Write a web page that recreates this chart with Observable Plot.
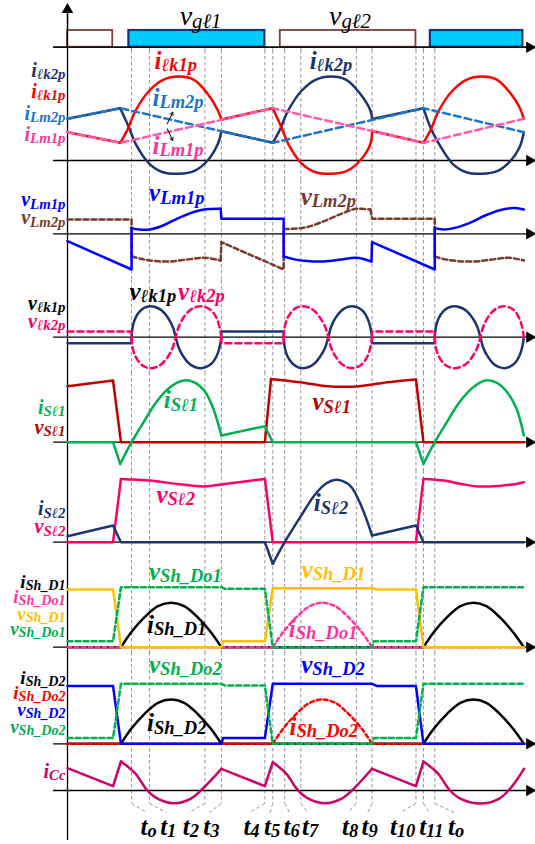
<!DOCTYPE html>
<html><head><meta charset="utf-8">
<script src="https://cdn.jsdelivr.net/npm/d3@7"></script>
<script src="https://cdn.jsdelivr.net/npm/@observablehq/plot@0.6"></script>
<style>
body{margin:0;background:#fff;}
#chart{position:relative;width:535px;height:844px;overflow:hidden;background:#fff;}
</style></head><body><div id="chart"></div>
<script>
// ---------- time events (switching instants) ----------
const events = [62.3, 79.7, 133.7, 149.7, 192, 199.7, 211.3, 227, 281, 296.3, 339, 346.3, 357.3];
const eventNames = ["o","1","2","3","4","5","6","7","8","9","10","11","o"];
const eventLabelAt = [79, 98, 120, 140, 179, 199, 218, 236, 275, 294, 326, 354, 378];

// ---------- gate signals ----------
const gateHigh = 16.7;
const vgl1Pulses = [[59.7, 192], [353, 443]];
const vgl2Pulses = [[0, 44], [207, 339]];

// ---------- leakage / magnetizing currents ----------
const ilk1pLin = [[[0,28.3],[51.3,17.7]], [[149.7,41],[199.7,52.3]], [[296.3,29.5],[346.3,17.7]]];
const ilk1pCur = [
  [[51.3,17.7],[58,30],[66.3,50],[79.7,70],[93,80.7],[108,84],[123,80.7],[136.3,66.7],[146.3,50],[149.7,41]],
  [[199.7,52.3],[208.1,33.3],[214.7,16.7],[228.1,-3.3],[241.4,-11.7],[256.4,-13.3],[271.4,-10.7],[284.7,0],[294.7,16.7],[296.3,29.5]],
  [[346.3,17.7],[353,30],[361.3,50],[374.7,70],[388,80.7],[403,84],[418,80.7],[431.3,66.7],[439.7,53.3],[444,41.7]]];
const ilk2pLin = [[[0,41.7],[51.3,52.3]], [[149.7,29.3],[199.7,17.7]], [[296.3,41.5],[346.3,52.3]]];
const ilk2pCur = [
  [[51.3,52.3],[59.7,33.3],[66.3,16.7],[79.7,-3.3],[93,-11.7],[108,-13.3],[123,-10.7],[136.3,0],[146.3,16.7],[149.7,29.3]],
  [[199.7,17.7],[206.3,30],[214.7,50],[228,70],[241.3,80.7],[256.3,84],[271.3,80.7],[284.7,66.7],[294.7,50],[296.3,41.5]],
  [[346.3,52.3],[353,33.3],[361.3,16.7],[374.7,-3.3],[388,-11.7],[403,-13.3],[418,-10.7],[431.3,0],[439.7,13],[444,28.3]]];
const iLm2p = [[[0,41.7],[51.3,52.3],[199.7,17.7],[346.3,52.3],[444,28.3]]];
const iLm1p = [[[0,28.3],[51.3,17.7],[199.7,52.3],[346.3,17.7],[444,41.7]]];
const pointerArrows = [[97,36.7,102.4,48.3],[97,31.7,102.4,20]];

// ---------- magnetizing voltages ----------
const vLm1pLin = [[[0,-7.3],[62.3,-35.7],[62.3,5.7]], [[149,25],[149.7,15],[210.3,15],[210.3,-22.7]], [[295.7,-27.7],[296.3,-8.3],[357.3,-35.7],[357.3,5.7]]];
const vLm1pCur = [
  [[62.3,5.7],[69.7,4.3],[79.7,4.3],[93,8.3],[106.3,15],[119.7,20.7],[133,24.3],[149,25]],
  [[210.3,-22.7],[219.7,-25.3],[233,-27.3],[249.7,-27.7],[266.3,-25.7],[281,-24],[295.7,-27.7]],
  [[357.3,5.7],[366.3,4.3],[379.7,6.7],[393,11.7],[406.3,18.3],[419.7,23.3],[433,25.7],[444,24.3]]];
const vLm2pLin = [[[0,14.3],[62.3,14.3],[62.3,-22.7]], [[149,-26.7],[149.7,-8.3],[210.3,-35.7],[210.3,5]], [[294.7,24.3],[296.3,15],[357.3,15],[357.3,-22.7]]];
const vLm2pCur = [
  [[62.3,-22.7],[73,-25.3],[86.3,-27.3],[99.7,-27.7],[116.3,-25.7],[133,-24],[149,-26.7]],
  [[210.3,5],[219.7,5],[233,6.7],[249.7,12.7],[266.3,20],[281,25],[294.7,24.3]],
  [[357.3,-22.7],[366.3,-25.3],[379.7,-27.3],[396.3,-27.7],[413,-25.7],[429.7,-24],[444,-26.7]]];

// ---------- leakage voltages ----------
const vlk1pLin = [[[0,-6],[62.3,-6],[62.3,0]], [[149.7,0],[149.7,5.7],[210.3,5.7],[210.3,0]], [[296.3,0],[296.3,-6],[357.3,-6],[357.3,0]]];
const vlk1pCur = [
  [[62.3,0],[63.5,11],[66,19],[70.5,26],[75,29.5],[80,31],[86,30],[92,26.5],[98,19],[102.5,10],[105.3,0],
   [108,-10],[112.5,-19],[118.5,-26.5],[124.5,-30],[130,-31],[135.5,-29.5],[140.5,-26],[145,-19],[147.7,-11],[149.7,0]],
  [[210.3,0],[211.5,-11],[214,-19],[218.5,-26],[223,-29.5],[228,-31],[234,-30],[240,-26.5],[246,-19],[250.8,-10],[253.7,0],
   [256.3,10],[260.6,19],[266.4,26.5],[272.1,30],[277.4,31],[282.7,29.5],[287.5,26],[291.8,19],[294.4,11],[296.3,0]],
  [[357.3,0],[358.5,11],[361.1,19],[365.8,26],[370.4,29.5],[375.6,31],[381.8,30],[388,26.5],[394.2,19],[398.8,10],[401.7,0],
   [404.3,-10],[408.6,-19],[414.3,-26.5],[420,-30],[425.2,-31],[430.5,-29.5],[435.2,-26],[439.5,-19],[442.1,-11],[444,0]]];
const vlk2pLin = [[[0,5.7],[62.3,5.7],[62.3,0]], [[149.7,0],[149.7,-6],[210.3,-6],[210.3,0]], [[296.3,0],[296.3,5.7],[357.3,5.7],[357.3,0]]];
const vlk2pCur = [
  [[62.3,0],[63.5,-11],[66,-19],[70.5,-26],[75,-29.5],[80,-31],[86,-30],[92,-26.5],[98,-19],[102.5,-10],[105.3,0],
   [108,10],[112.5,19],[118.5,26.5],[124.5,30],[130,31],[135.5,29.5],[140.5,26],[145,19],[147.7,11],[149.7,0]],
  [[210.3,0],[211.5,11],[214,19],[218.5,26],[223,29.5],[228,31],[234,30],[240,26.5],[246,19],[250.8,10],[253.7,0],
   [256.3,-10],[260.6,-19],[266.4,-26.5],[272.1,-30],[277.4,-31],[282.7,-29.5],[287.5,-26],[291.8,-19],[294.4,-11],[296.3,0]],
  [[357.3,0],[358.5,-11],[361.1,-19],[365.8,-26],[370.4,-29.5],[375.6,-31],[381.8,-30],[388,-26.5],[394.2,-19],[398.8,-10],[401.7,0],
   [404.3,10],[408.6,19],[414.3,26.5],[420,30],[425.2,31],[430.5,29.5],[435.2,26],[439.5,19],[442.1,11],[444,0]]];

// ---------- switch S1 ----------
const vSl1Lin = [[[0,56],[44.3,61.7],[52,0],[192,0],[198,63.3]], [[339,62.7],[346.3,0],[444,0]]];
const vSl1Cur = [[[198,63.3],[226.3,60],[253,56],[281,55.7],[296.3,57.7],[306.3,59.3],[339,62.7]]];
const iSl1Lin = [[[0,0],[44.3,0],[51.3,-21.7]], [[149.7,6.7],[192,16],[199.7,0],[339,0],[346.3,-21.7]]];
const iSl1Cur = [
  [[51.3,-21.7],[62.3,0],[73,18.3],[86.3,40],[99.7,55],[113,61.7],[123,60],[133,51.7],[141.3,35],[149.7,6.7]],
  [[346.3,-21.7],[357.3,0],[368,18.3],[381.3,40],[394.7,55],[406.3,61.7],[416.3,60],[426.3,51.7],[436.3,35],[444,6.7]]];

// ---------- switch S2 ----------
const vSl2Lin = [[[0,0],[44.3,0],[52,63.3]], [[192,63.3],[199.7,0],[339,0],[346.3,63.3]]];
const vSl2Cur = [
  [[52,63.3],[79.7,61.7],[106.3,58.3],[133,55.7],[153,58.3],[192,63.3]],
  [[346.3,63.3],[366.3,61.7],[383,58.3],[399.7,55.7],[419.7,56.3],[433,57.7],[444,60]]];
const iSl2Lin = [[[0,6],[44.3,16.7],[52,0],[192,0],[199.7,-21.6]], [[296.3,6.7],[339,16.7],[346.3,0],[444,0]]];
const iSl2Cur = [[[199.7,-21.6],[211.3,0],[227,26],[241,48],[252,59],[259.7,62.3],[268,61],[276.3,55],[286.3,35],[296.3,6.7]]];

// ---------- shunt diodes, leg 1 ----------
const vShD1 = [[[0,57.7],[44.3,57.7],[52,0],[149.7,0],[151.3,6],[192,6],[199.7,59],[296.3,59],[301.3,57.7],[339,57.7],[346.3,0],[444,0]]];
const vShDo1 = [[[0,6],[44.3,6],[52,60],[149.7,60],[153,58.4],[192,58.4],[199.7,0],[296.3,0],[298,6],[339,6],[346.3,60],[444,60]]];
const iShD1Lin = [[[0,0],[52,0]], [[149.7,0],[346.3,0]]];
const iShD1Cur = [
  [[52,0],[62,15],[75,30],[88,41],[100.8,44.4],[113.5,41],[126.5,30],[139.5,15],[149.7,0]],
  [[346.3,0],[356.3,15],[369.3,30],[382.3,41],[395,44.4],[407.5,41],[420.5,30],[433.5,15],[444,0]]];
const iShDo1Lin = [[[0,0],[199.7,0]], [[296.3,0],[444,0]]];
const iShDo1Cur = [[[199.7,0],[209.7,15],[222.7,30],[235.7,41],[248,44.4],[260.3,41],[273.3,30],[286.3,15],[296.3,0]]];

// ---------- shunt diodes, leg 2 ----------
const vShD2 = [[[0,57.7],[44.3,57.7],[52,0],[149.7,0],[151.3,5.7],[192,5.7],[199.7,60],[296.3,60],[301.3,57.7],[339,57.7],[346.3,0],[444,0]]];
const vShDo2 = [[[0,5.7],[44.3,5.7],[52,60],[149.7,60],[153,58.4],[192,58.4],[199.7,0],[296.3,0],[298,5.7],[339,5.7],[346.3,60],[444,60]]];
const iShD2Lin = [[[0,0],[52,0]], [[149.7,0],[346.3,0]]];
const iShD2Cur = [
  [[52,0],[62,15],[75,30],[88,41],[100.8,44.3],[113.5,41],[126.5,30],[139.5,15],[149.7,0]],
  [[346.3,0],[356.3,15],[369.3,30],[382.3,41],[395,44.3],[407.5,41],[420.5,30],[433.5,15],[444,0]]];
const iShDo2Lin = [[[0,0],[199.7,0]], [[296.3,0],[444,0]]];
const iShDo2Cur = [[[199.7,0],[209.7,15],[222.7,30],[235.7,41],[248,44.3],[260.3,41],[273.3,30],[286.3,15],[296.3,0]]];

// ---------- clamp capacitor current ----------
const iCcLin = [[[0,22.3],[44.3,4.3],[52,29]], [[149.7,21.7],[192,4.3],[199.7,28.3]], [[296.3,21.7],[339,4.3],[346.3,29]]];
const iCcCur = [
  [[52,29],[66.3,16.7],[76.3,1.7],[86.3,-7.3],[103,-12.7],[119.7,-8.3],[129.7,0],[149.7,21.7]],
  [[199.7,28.3],[213,16.7],[223,1.7],[233,-7.3],[249.7,-12.7],[266.3,-8.3],[276.7,0],[296.3,21.7]],
  [[346.3,29],[360.7,16.7],[370.7,1.7],[380.7,-7.3],[402,-13],[419.7,-8.3],[429,0],[436,9],[444,21.7]]];

// ---------- colours ----------
const NAVY="#1c3470", RED="#ff0000", BLUE2="#1f74c4", PINK="#ff5aab", PINKL="#ff3399", BLUE="#0000ff",
      BROWN="#7a3b2e", HOT="#ff0066", DARKRED="#c00000", GREEN="#00b050", ORANGE="#ffc000",
      MAG="#cc0066", CYAN="#00ccff", GBROWN="#7f3f3f";

// ---------- layout ----------
const W = 535;
const X_DOMAIN = [-65.2, 455.3];
const layout = {
  gate:{top:0,height:50,base:46.7}, ilk:{top:50,height:130,base:160}, vlm:{top:180,height:100,base:233.3},
  vlk:{top:280,height:92,base:336.7}, is1:{top:372,height:98,base:441.7}, is2:{top:470,height:96,base:541.7},
  sh1:{top:566,height:86,base:646.7}, sh2:{top:652,height:96,base:743.3}, icc:{top:748,height:96,base:790}
};
const FONT = "'Liberation Serif','Times New Roman',Times,serif";

function rows(pieces){ return pieces.flatMap((p,i)=>p.map(([t,v])=>({t,v,z:i}))); }
function trace(lin, cur, o){
  const b = {x:"t", y:"v", z:"z", strokeWidth:2.5, strokeLinejoin:"round", ...o};
  const m = [];
  if (lin && lin.length) m.push(Plot.line(rows(lin), {...b, curve:"linear"}));
  if (cur && cur.length) m.push(Plot.line(rows(cur), {...b, curve:"catmull-rom"}));
  return m;
}
function frame(L, first=false, last=false){
  const vTop = L.base - L.top, vBot = L.base - L.top - L.height;
  const m = [
    Plot.ruleX(events, {x:d=>d, y1: first ? 0 : vTop, y2: last ? -13 : vBot, stroke:"#8a8a8a", strokeWidth:0.9, strokeDasharray:"3.5,2.5"}),
    Plot.ruleX([0], {y1: first ? 38 : vTop, y2: last ? -50 : vBot, stroke:"black", strokeWidth:1.3}),
    Plot.ruleY([0], {x1:-13.6, x2:448, stroke:"black", strokeWidth:1.3}),
    Plot.dot([0], {x:449.5, y:0, symbol:"triangle", r:4.3, fill:"black", stroke:"none", rotate:90})
  ];
  if (first) m.push(Plot.dot([0], {x:0, y:37.5, symbol:"triangle", r:4.3, fill:"black", stroke:"none"}));
  return m;
}
function leftLabels(arr, size=20){
  return Plot.text(arr, {x:-2, y:d=>d.v, text:d=>d.s, fill:d=>d.c, textAnchor:"end", lineAnchor:"bottom",
    fontFamily:FONT, fontWeight:"bold", fontStyle:"italic", fontSize:size});
}
function inLabels(arr, size=25, weight="bold"){
  return Plot.text(arr, {x:d=>d.t, y:d=>d.v, text:d=>d.s, fill:d=>d.c, textAnchor:"middle", lineAnchor:"bottom",
    fontFamily:FONT, fontWeight:weight, fontStyle:"italic", fontSize:size});
}
function subify(svg){
  const ns = "http://www.w3.org/2000/svg";
  svg.querySelectorAll("text").forEach(el=>{
    const s = el.textContent, k = s.indexOf("|");
    if (k < 0) return;
    el.textContent = "";
    const a = document.createElementNS(ns,"tspan"); a.textContent = s.slice(0,k);
    const b = document.createElementNS(ns,"tspan"); b.textContent = s.slice(k+1);
    b.style.fontSize = "74%"; b.setAttribute("dy","0.16em");
    el.append(a,b);
  });
}
const chart = document.getElementById("chart");
function place(L, marks){
  const svg = Plot.plot({width:W, height:L.height, margin:0,
    x:{domain:X_DOMAIN, axis:null}, y:{domain:[L.base-L.top-L.height, L.base-L.top], axis:null}, marks});
  subify(svg);
  Object.assign(svg.style, {position:"absolute", left:"0px", top:L.top+"px", overflow:"visible", background:"transparent", maxWidth:"none"});
  chart.appendChild(svg);
}

// ---------- panels ----------
place(layout.gate, [
  ...frame(layout.gate, true),
  Plot.rect(vgl2Pulses, {x1:d=>d[0], x2:d=>d[1], y1:0, y2:gateHigh, fill:"white", stroke:GBROWN, strokeWidth:1.8}),
  Plot.rect(vgl1Pulses, {x1:d=>d[0], x2:d=>d[1], y1:0, y2:gateHigh, fill:CYAN, stroke:NAVY, strokeWidth:2.2}),
  Plot.ruleY([0], {x1:-13.6, x2:448, stroke:"black", strokeWidth:1.3}),
  Plot.ruleX([0], {y1:0, y2:38, stroke:"black", strokeWidth:1.3}),
  inLabels([{s:"v|gℓ1", c:"black", t:129.4, v:22.7}, {s:"v|gℓ2", c:"black", t:274.7, v:22.7}], 28, "normal")
]);

place(layout.ilk, [
  ...frame(layout.ilk),
  ...trace(ilk2pLin, ilk2pCur, {stroke:NAVY}),
  ...trace(ilk1pLin, ilk1pCur, {stroke:RED}),
  ...trace(iLm2p, null, {stroke:BLUE2, strokeDasharray:"7,4"}),
  ...trace(iLm1p, null, {stroke:PINK, strokeDasharray:"7,4"}),
  Plot.arrow(pointerArrows, {x1:d=>d[0], y1:d=>d[1], x2:d=>d[2], y2:d=>d[3], stroke:"black", strokeWidth:1, headLength:5}),
  leftLabels([{s:"i|ℓk2p",c:NAVY,v:84},{s:"i|ℓk1p",c:RED,v:63},{s:"i|Lm2p",c:BLUE2,v:41},{s:"i|Lm1p",c:PINKL,v:20}]),
  inLabels([{s:"i|ℓk1p",c:RED,t:105.3,v:92},{s:"i|ℓk2p",c:NAVY,t:256.3,v:92},{s:"i|Lm2p",c:BLUE2,t:107.5,v:55},{s:"i|Lm1p",c:PINKL,t:107.5,v:7}])
]);

place(layout.vlm, [
  ...frame(layout.vlm),
  ...trace(vLm2pLin, vLm2pCur, {stroke:BROWN, strokeDasharray:"5,3"}),
  ...trace(vLm1pLin, vLm1pCur, {stroke:BLUE}),
  leftLabels([{s:"v|Lm1p",c:BLUE,v:27.5},{s:"v|Lm2p",c:BROWN,v:9.5}]),
  inLabels([{s:"v|Lm1p",c:BLUE,t:106.3,v:32.6},{s:"v|Lm2p",c:BROWN,t:253.7,v:29.3}])
]);

place(layout.vlk, [
  ...frame(layout.vlk),
  ...trace(vlk1pLin, vlk1pCur, {stroke:NAVY}),
  ...trace(vlk2pLin, vlk2pCur, {stroke:HOT, strokeDasharray:"6,4"}),
  leftLabels([{s:"v|ℓk1p",c:"black",v:27.5},{s:"v|ℓk2p",c:HOT,v:9.5}]),
  inLabels([{s:"v|ℓk1p",c:"black",t:83,v:37.7},{s:"v|ℓk2p",c:HOT,t:130.3,v:37.7}])
]);

place(layout.is1, [
  ...frame(layout.is1),
  ...trace(vSl1Lin, vSl1Cur, {stroke:DARKRED}),
  ...trace(iSl1Lin, iSl1Cur, {stroke:GREEN}),
  leftLabels([{s:"i|Sℓ1",c:GREEN,v:28.2},{s:"v|Sℓ1",c:DARKRED,v:8.7}]),
  inLabels([{s:"i|Sℓ1",c:GREEN,t:110.3,v:34.4},{s:"v|Sℓ1",c:DARKRED,t:257,v:32}])
]);

place(layout.is2, [
  ...frame(layout.is2),
  ...trace(vSl2Lin, vSl2Cur, {stroke:HOT}),
  ...trace(iSl2Lin, iSl2Cur, {stroke:NAVY}),
  leftLabels([{s:"i|Sℓ2",c:NAVY,v:27},{s:"v|Sℓ2",c:HOT,v:8.9}]),
  inLabels([{s:"v|Sℓ2",c:HOT,t:105.3,v:39.7},{s:"i|Sℓ2",c:NAVY,t:256.3,v:31}])
]);

place(layout.sh1, [
  ...frame(layout.sh1),
  ...trace(iShD1Lin, iShD1Cur, {stroke:"black"}),
  ...trace(iShDo1Lin, iShDo1Cur, {stroke:PINKL, strokeDasharray:"4,3"}),
  ...trace(vShD1, null, {stroke:ORANGE}),
  ...trace(vShDo1, null, {stroke:GREEN, strokeDasharray:"5,3"}),
  leftLabels([{s:"i|Sh_D1",c:"black",v:59.7},{s:"i|Sh_Do1",c:PINKL,v:44.2},{s:"v|Sh_D1",c:ORANGE,v:27.7},{s:"v|Sh_Do1",c:GREEN,v:12.2}], 19),
  inLabels([{s:"v|Sh_Do1",c:GREEN,t:114.7,v:67.7},{s:"v|Sh_D1",c:ORANGE,t:258.7,v:69.7},{s:"i|Sh_D1",c:"black",t:106.3,v:14.7},{s:"i|Sh_Do1",c:PINKL,t:248.7,v:10.7}])
]);

place(layout.sh2, [
  ...frame(layout.sh2),
  ...trace(iShD2Lin, iShD2Cur, {stroke:"black"}),
  ...trace(iShDo2Lin, iShDo2Cur, {stroke:RED, strokeDasharray:"4,3"}),
  ...trace(vShD2, null, {stroke:BLUE}),
  ...trace(vShDo2, null, {stroke:GREEN, strokeDasharray:"5,3"}),
  leftLabels([{s:"i|Sh_D2",c:"black",v:60.3},{s:"i|Sh_Do2",c:RED,v:44.8},{s:"v|Sh_D2",c:BLUE,v:28.3},{s:"v|Sh_Do2",c:GREEN,v:11.3}], 19),
  inLabels([{s:"v|Sh_Do2",c:GREEN,t:114.7,v:71.3},{s:"v|Sh_D2",c:BLUE,t:258.3,v:71.3},{s:"i|Sh_D2",c:"black",t:106.3,v:12.6},{s:"i|Sh_Do2",c:RED,t:249.3,v:9.3}])
]);

const tLabels = events.map((e,i)=>({e, s:"t|"+eventNames[i], t:eventLabelAt[i]}));
place(layout.icc, [
  ...frame(layout.icc, false, true),
  ...trace(iCcLin, iCcCur, {stroke:MAG}),
  Plot.link(tLabels, {x1:d=>d.e, y1:-13, x2:d=>d.t-2, y2:-22, stroke:"#8a8a8a", strokeWidth:0.9, strokeDasharray:"3.5,2.5"}),
  leftLabels([{s:"i|Cc",c:MAG,v:13}]),
  Plot.text(tLabels, {x:d=>d.t, y:-44, text:d=>d.s, fill:"black", textAnchor:"middle", lineAnchor:"bottom",
    fontFamily:FONT, fontWeight:"bold", fontStyle:"italic", fontSize:25})
]);
</script></body></html>
